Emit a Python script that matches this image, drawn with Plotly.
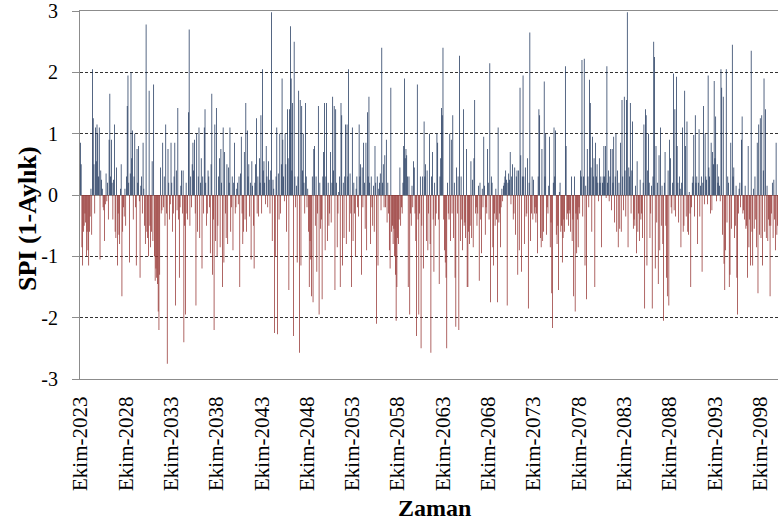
import plotly.graph_objects as go

# Monthly SPI (1-month) series, one row per hydrological year (Ekim .. Eylül)
SPI_ROWS = [
    [0.85, 0.5, -0.85, -1.15, -0.6, -0.5, -0.3, -0.45, -1.0, -0.6, -0.9, -1.15],
    [-0.6, -0.35, 0.1, -0.65, 2.05, 1.25, 0.5, -0.3, 1.1, 0.55, 1.15, 1.0],
    [0.3, 1.1, -1.05, 0.4, 0.25, 0.1, -0.2, -0.25, -0.75, -0.15, 0.35, -0.1],
    [0.2, -0.4, 0.9, 1.65, 0.3, 0.9, 0.2, -0.4, 0.25, 1.15, -0.6, -0.7],
    [0.45, -1.15, -0.3, -0.65, -0.8, 0.1, 0.5, -1.65, -0.6, -0.2, -0.35, 0.1],
    [-0.5, 0.3, 1.45, 1.95, 0.2, -1.1, 0.35, 2.0, 0.6, 1.05, -0.4, 0.3],
    [1.0, -0.2, -1.15, 0.75, 0.2, 0.8, -0.1, -1.35, 0.15, 0.3, -0.3, 0.85],
    [0.1, -0.5, -0.8, 2.78, -0.6, -0.7, -1.0, 1.7, -0.5, -0.85, -0.6, 0.55],
    [-0.75, 1.8, -1.0, -1.4, -1.2, -1.35, -1.45, -1.9, -2.2, -1.3, 0.45, -0.3],
    [-0.25, 0.85, -0.2, 0.3, -0.5, 1.15, -0.3, -2.75, 0.75, 0.2, -0.4, -0.15],
    [0.85, 0.2, -0.6, -0.3, 0.3, 0.85, -1.8, 0.4, -0.25, 1.42, -0.4, -1.35],
    [-0.2, 0.15, 0.4, -0.3, 0.4, -2.4, -0.5, -1.95, 0.2, -0.3, -0.4, 1.35],
    [2.7, -0.5, 0.3, -0.2, 0.5, 0.85, 0.4, 0.9, -0.3, -1.8, 1.0, -0.6],
    [0.3, 1.1, -0.7, 0.2, 0.6, -1.2, 0.3, -0.3, 1.1, 1.4, 0.2, -0.5],
    [-0.3, 0.4, 0.3, -0.2, -0.95, 0.5, 1.65, -1.3, -0.4, -2.2, 1.15, -0.75],
    [1.42, -1.0, -0.5, 0.3, 0.6, -0.85, 0.75, 0.2, -1.5, 1.1, -1.1, 0.7],
    [-0.3, -0.7, 0.5, -0.8, 0.45, 0.2, 1.1, -0.6, -0.2, 0.3, -0.9, 0.2],
    [0.85, -0.3, -0.2, 0.1, 0.2, -0.15, 0.3, -1.5, 0.35, 0.95, -0.3, -0.8],
    [-0.6, 0.7, -0.4, 1.5, -0.6, 1.05, 0.3, 0.5, -0.35, 0.2, -1.05, 0.55],
    [0.15, -0.5, -1.2, 0.2, 0.5, 1.25, -0.3, 0.3, -0.35, 0.6, 0.2, 1.3],
    [-0.3, 2.05, 0.4, 0.55, 0.2, -0.15, 0.8, 0.3, -0.2, 0.55, 0.25, -0.3],
    [0.4, 2.98, -0.75, 0.25, 0.1, -2.25, -1.0, 0.3, 1.1, -2.27, 0.35, -0.4],
    [1.0, -0.3, 0.5, 1.9, 0.9, 0.3, -0.1, 1.0, 0.5, -0.6, 1.4, 0.6],
    [-1.55, 1.4, 2.75, 1.9, 0.4, 1.5, -2.3, 2.5, 0.3, -0.2, 0.15, -1.1],
    [0.3, 1.7, -2.57, 1.55, -1.15, 1.45, 0.4, 1.0, 0.2, -0.3, 1.5, 0.3],
    [-0.2, 0.1, -0.6, -1.5, -0.75, -1.05, -1.65, 0.3, -1.75, 0.75, 0.8, -0.5],
    [0.3, -1.25, -0.3, 1.45, -1.95, 0.2, -0.55, -0.4, -1.7, 0.3, 0.7, 1.5],
    [-0.9, 0.3, 1.5, -0.75, 0.2, -0.5, -0.3, 0.7, -0.45, 0.2, 1.6, 0.4],
    [1.45, -1.55, 1.4, 0.2, -0.85, -0.3, 0.05, 0.3, -1.5, 1.5, 1.3, -1.15],
    [0.2, -0.7, 0.3, 1.15, -0.8, 1.15, 0.3, 2.05, -0.6, 0.35, -0.3, -1.5],
    [1.1, -0.75, 0.2, -0.3, -1.0, 0.1, 0.3, -0.2, -0.35, 1.15, 0.3, 0.5],
    [-1.3, 0.45, -0.2, 0.85, 0.2, -0.55, 0.85, -0.9, 1.35, 0.3, 1.6, 0.2],
    [-0.8, 0.3, -0.2, -0.5, 0.15, -0.6, 0.8, 0.2, -2.1, 0.3, -1.15, 0.1],
    [0.2, 0.35, -0.25, 2.4, 0.2, 0.5, -0.2, 0.65, -0.2, 0.9, -0.45, 0.2],
    [-0.3, -0.9, -1.2, 1.75, -0.6, -0.5, -0.8, -0.55, -1.0, -1.3, -2.05, -1.5],
    [-0.7, -0.8, -0.4, 0.45, -0.5, -0.2, -0.3, 0.2, 0.8, 1.9, 0.6, 0.75],
    [0.65, 0.3, -1.5, 0.3, -1.95, -0.3, -0.5, 0.15, -0.2, 0.55, 0.45, -0.3],
    [-0.75, -2.3, 1.8, -0.4, -1.95, -0.3, 0.3, -2.5, -0.5, 0.3, -1.2, 1.2],
    [0.3, 0.5, -0.75, 0.4, -0.9, -0.3, 1.0, -0.8, -2.57, 0.3, 0.7, -0.4],
    [-1.25, 0.2, -0.5, -0.3, 1.0, 0.85, -0.4, -1.45, 0.3, 0.6, 1.42, 1.3],
    [2.4, -0.4, -0.9, -1.1, -1.35, -2.5, 0.2, -0.3, -0.4, 1.0, -0.75, 0.9],
    [-0.3, 1.3, -0.7, 0.2, -1.35, -2.15, 0.45, -0.3, 0.3, -2.2, 2.27, -0.75],
    [0.3, -0.4, -0.9, 1.4, -0.5, -0.45, -0.7, 0.75, -1.5, -1.5, -0.6, -0.8],
    [-0.5, 0.55, -0.7, 0.25, -0.85, 0.6, 1.55, -0.3, -0.2, -0.5, -0.3, 0.15],
    [-1.4, 0.2, -0.4, -0.95, 0.1, -0.2, 0.95, 0.15, -0.65, -0.2, -0.3, 0.75],
    [0.2, -0.4, 2.15, -1.75, 0.3, 0.2, -0.85, -1.15, -0.3, -0.5, 0.1, -0.4],
    [-1.75, 1.1, -0.45, -0.3, -0.85, -0.2, 0.1, -0.1, 0.15, 0.2, 0.3, 0.4],
    [0.25, -1.8, 0.2, 0.35, 0.25, 0.7, -0.15, 0.3, 0.5, -0.4, -0.3, 0.45],
    [-0.65, 0.3, 0.4, -1.3, 0.4, -0.9, 1.75, 0.65, -1.25, 0.3, 1.95, 0.3],
    [-0.8, 0.45, -0.35, -0.3, 0.6, -1.85, 0.2, 2.65, -0.75, -0.3, 0.3, -0.4],
    [0.25, -0.3, -0.2, -0.45, -0.3, -0.95, 0.3, 1.4, 1.3, -0.7, -0.85, 0.75],
    [-0.75, -0.6, 1.85, 0.3, 1.0, -0.65, -0.2, -0.3, 0.15, 0.95, -0.85, -0.45],
    [-1.6, -2.17, 0.2, 1.1, 0.3, 1.05, -0.65, -0.8, -0.5, -1.55, 0.05, 0.2],
    [-0.6, -0.5, -1.1, -0.7, -0.4, -0.6, 2.1, 0.8, -0.4, -0.3, -0.5, -0.25],
    [-0.3, -0.6, 0.3, -0.75, -0.4, -1.65, 0.3, -1.9, -0.3, -0.95, -0.4, -0.85],
    [-0.2, -0.3, 0.4, 0.3, 2.2, -0.35, 0.3, 2.22, -1.15, 0.15, -1.7, 0.75],
    [0.3, -0.2, 1.88, 1.5, 0.45, -0.6, 0.95, 0.3, 0.6, -1.5, 0.85, 0.3],
    [0.5, 0.2, -0.1, 0.6, 0.2, 0.3, -0.85, 0.2, 0.3, 0.8, 0.3, 0.8],
    [-0.05, 2.1, 0.2, 0.4, -0.1, 0.3, 0.75, -0.25, 0.75, 0.2, 0.95, -0.45],
    [0.3, 1.0, -0.6, 0.4, -0.85, 0.2, -0.55, 0.85, -0.6, 1.55, 0.3, -0.25],
    [1.6, 0.4, -0.35, 1.55, 2.98, -0.85, 0.45, 0.3, 1.5, -0.3, 0.4, 1.2],
    [-0.55, -0.4, -0.5, 0.15, -0.95, 0.55, -0.6, -0.3, -0.75, 0.25, -0.4, -0.3],
    [-0.7, 0.2, 1.15, -1.85, 1.4, 1.3, -1.15, 0.4, 1.0, 0.2, -0.7, -0.3],
    [0.15, -1.85, 0.3, 2.5, 2.25, -1.2, 0.8, -0.45, 0.2, -1.45, 0.65, -0.9],
    [1.1, -0.5, 0.15, -0.8, -2.05, 0.2, 0.7, -0.5, -1.35, -1.65, 0.4, -1.8],
    [0.9, 0.6, -0.2, -0.3, 0.2, 1.98, -0.25, 1.4, -0.35, 1.93, 0.8, 0.2],
    [-0.45, 0.3, 0.1, -0.85, 0.2, 1.1, -0.6, -0.5, 1.7, 0.8, -0.35, 1.2],
    [-0.6, -0.65, 0.05, -0.3, -1.5, -0.2, 0.2, 0.3, 0.98, -0.35, 1.3, 0.2],
    [0.3, -0.8, 0.2, 1.07, -0.35, 0.15, 0.3, -1.25, 0.2, 1.45, -0.15, 1.0],
    [0.3, 0.25, -0.15, 1.95, 0.45, 0.3, -0.3, 0.85, -0.25, 0.7, 0.5, 1.86],
    [0.6, 1.28, -0.1, 0.5, 0.2, 0.3, 0.15, -0.1, 2.05, 1.75, -0.65, 1.6],
    [-1.12, -1.55, -0.9, 2.05, -0.45, 0.3, 0.2, -1.5, -1.3, 0.85, -0.55, 2.45],
    [0.3, 0.45, -0.7, -0.5, 0.15, -1.35, -1.95, -0.3, 0.1, 0.2, -0.2, 0.9],
    [1.28, -0.3, -0.25, -0.4, 0.15, -0.55, -0.5, -1.35, 0.8, -0.85, -0.4, -1.15],
    [2.35, -0.6, -1.15, 0.1, -0.55, 0.3, -0.4, -0.85, 0.85, -1.6, 1.15, -0.65],
    [1.25, -0.7, 1.3, -1.15, 0.4, 1.9, -0.6, 1.4, -0.7, 0.15, -0.75, -0.4],
    [-0.5, -1.65, -0.5, -0.3, 0.2, -0.7, 0.25, -0.4, -0.9, 0.85, -0.65, -0.5],
]

TICK_LABELS = [
    "Ekim-2023", "Ekim-2028", "Ekim-2033", "Ekim-2038", "Ekim-2043", "Ekim-2048",
    "Ekim-2053", "Ekim-2058", "Ekim-2063", "Ekim-2068", "Ekim-2073", "Ekim-2078",
    "Ekim-2083", "Ekim-2088", "Ekim-2093", "Ekim-2098",
]
TICK_STEP_MONTHS = 60

Y_TICKS = [-3, -2, -1, 0, 1, 2, 3]
Y_TICK_TEXT = ["-3", "-2", "-1", "0", "1", "2", "3"]

spi = [v for row in SPI_ROWS for v in row]
months = list(range(len(spi)))

WET = "rgba(22,46,86,0.999)"
DRY = "rgba(145,44,42,0.999)"
bar_colors = [WET if v >= 0 else DRY for v in spi]

FONT = "Liberation Serif, Times New Roman, serif"

fig = go.Figure(
    go.Bar(
        x=months,
        y=spi,
        marker=dict(color=bar_colors, line=dict(width=0)),
        hoverinfo="skip",
    )
)

PLOT_LEFT, PLOT_TOP, PLOT_BOTTOM = 80, 11, 379
PLOT_H = PLOT_BOTTOM - PLOT_TOP
PLOT_W = 778 - PLOT_LEFT

fig.update_layout(
    width=778,
    height=525,
    margin=dict(l=PLOT_LEFT, r=0, t=PLOT_TOP, b=525 - PLOT_BOTTOM),
    paper_bgcolor="white",
    plot_bgcolor="white",
    bargap=0.04,
    showlegend=False,
    font=dict(family=FONT, color="black"),
    annotations=[
        dict(
            text="<b>SPI (1-Aylık)</b>",
            xref="paper", yref="paper",
            x=(27 - PLOT_LEFT) / PLOT_W, y=(PLOT_BOTTOM - 219) / PLOT_H,
            xanchor="center", yanchor="middle",
            textangle=-90, showarrow=False,
            font=dict(size=26, family=FONT, color="black"),
        ),
        dict(
            text="<b>Zaman</b>",
            xref="paper", yref="paper",
            x=(434 - PLOT_LEFT) / PLOT_W, y=(PLOT_BOTTOM - 508) / PLOT_H,
            xanchor="center", yanchor="middle",
            showarrow=False,
            font=dict(size=24, family=FONT, color="black"),
        ),
    ],
)

fig.update_xaxes(
    range=[-0.5, len(spi) - 0.5],
    tickmode="array",
    tickvals=[i * TICK_STEP_MONTHS for i in range(len(TICK_LABELS))],
    ticktext=TICK_LABELS,
    tickangle=-90,
    tickfont=dict(size=21, family=FONT),
    ticks="",
    ticklabelstandoff=8,
    showgrid=False,
    showline=True,
    linecolor="#8c8c8c",
    linewidth=1.2,
    mirror=True,
    zeroline=False,
)

fig.update_yaxes(
    range=[-3, 3],
    tickmode="array",
    tickvals=Y_TICKS,
    ticktext=Y_TICK_TEXT,
    tickfont=dict(size=20, family=FONT),
    ticks="outside",
    ticklen=7,
    tickcolor="#8c8c8c",
    ticklabelstandoff=10,
    showgrid=True,
    gridcolor="#333333",
    gridwidth=1,
    griddash="3px,2px",
    showline=True,
    linecolor="#8c8c8c",
    linewidth=1.2,
    zeroline=True,
    zerolinecolor="#8c8c8c",
    zerolinewidth=1.2,
)

fig.write_html("out.html")
